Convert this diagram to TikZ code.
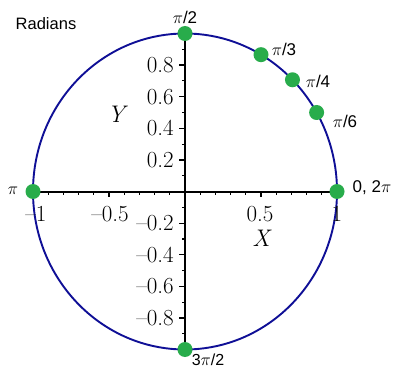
\documentclass[tikz,border=0pt]{standalone}
\usepackage{fontspec}
\newfontfamily\lsans{Liberation Sans}
\definecolor{circblue}{RGB}{15,15,150}
\definecolor{dotgreen}{RGB}{40,172,75}
\begin{document}
\begin{tikzpicture}[x=1pt,y=-1pt,
  dot/.style={circle,fill=dotgreen,inner sep=0pt,minimum size=15pt},
  num/.style={font=\fontsize{23}{26}\selectfont,inner sep=0pt},
  axlab/.style={font=\fontsize{24}{27}\selectfont\itshape,inner sep=0pt},
  plab/.style={font=\lsans\fontsize{17}{20}\selectfont,inner sep=0pt},
  axis/.style={line width=2pt,black},
  tick/.style={line width=1.2pt,black}]
\useasboundingbox (0,0) rectangle (394,369);
\fill[white] (0,0) rectangle (394,369);
% centre and radii (pixels)
\coordinate (O) at (185,191.5);
\coordinate (p0) at (337,191.5);
\coordinate (p1) at ({185+152*cos(30)},{191.5-158*sin(30)});
\coordinate (p2) at ({185+152*cos(45)},{191.5-158*sin(45)});
\coordinate (p3) at ({185+152*cos(60)},{191.5-158*sin(60)});
\coordinate (p4) at (185,33.5);
\coordinate (p5) at (33,191.5);
\coordinate (p6) at (185,349.5);
% circle
\draw[circblue,line width=1.9pt] (O) ellipse [x radius=152pt, y radius=158pt];
% axes
\draw[axis] (p5) -- (p0);
\draw[axis] (p4) -- (p6);
% ticks
\foreach \i in {-9,...,-1,1,2,...,9}{
  \pgfmathsetmacro{\len}{(abs(\i)==5) ? 5 : 3}
  \draw[tick] ({185+\i*15.2},191.5) -- ++(0,\len);
  \pgfmathsetmacro{\leny}{(mod(abs(\i),2)==0) ? 6 : 3}
  \draw[tick] (185,{191.5-\i*15.8}) -- ++(-\leny,0);
}
% y labels
\foreach \v/\t in {0.8/0.8,0.6/0.6,0.4/0.4,0.2/0.2,-0.2/--0.2,-0.4/--0.4,-0.6/--0.6,-0.8/--0.8}
  \node[num,anchor=east] (ly\v) at (174,{191.5-\v*158}) {\t};
% x labels
\node[num] (lxm1) at (36,214) {--1};
\node[num] (lxm05) at (110,214) {--0.5};
\node[num] (lx05) at (260,214) {0.5};
\node[num] (lx1) at (337,214) {1};
\node[axlab] (X) at (261,238) {X};
\node[axlab] (Y) at (116,114) {Y};
% dots
\foreach \k in {0,...,6} \node[dot] (d\k) at (p\k) {};
% point labels
\node[plab] (t0) at (372,188) {0, 2$\pi$};
\node[plab] (t1) at (345,121) {$\pi$/6};
\node[plab] (t2) at (318,81) {$\pi$/4};
\node[plab] (t3) at (284,49) {$\pi$/3};
\node[plab] (t4) at (185,17) {$\pi$/2};
\node[plab] (t5) at (13,191) {$\pi$};
\node[plab,font=\lsans\fontsize{16}{19}\selectfont,anchor=south] (t6) at (208,366) {3$\pi$/2};
\node[font=\lsans\fontsize{16.5}{19}\selectfont,inner sep=0pt] (title) at (46,24) {Radians};
\end{tikzpicture}
\end{document}
